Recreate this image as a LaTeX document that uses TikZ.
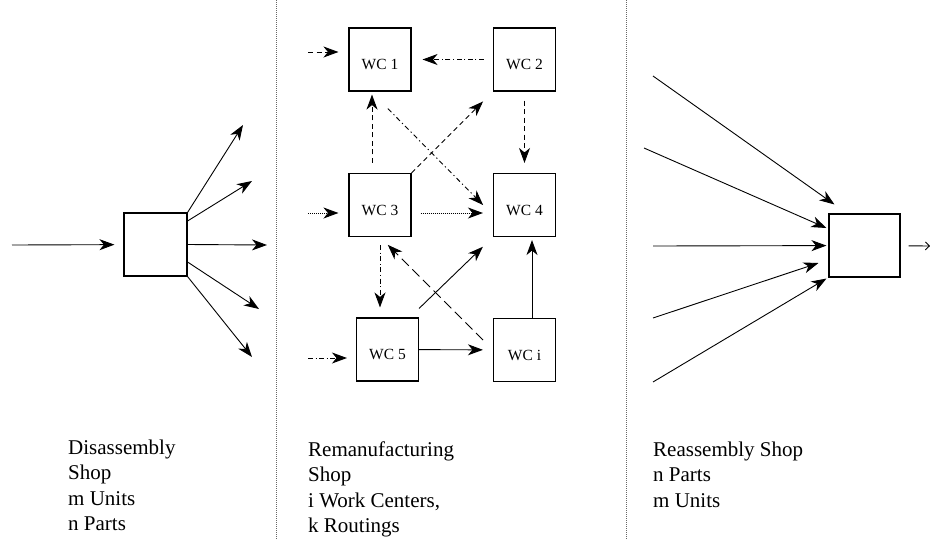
\documentclass[tikz,border=0pt]{standalone}
\usepackage{fontspec}
\setmainfont{Liberation Serif}
\usetikzlibrary{arrows.meta, calc, positioning}

\tikzset{
  shopbox/.style={draw, line width=1.1pt, minimum width=63pt, minimum height=63pt, inner sep=0pt},
  wc/.style={shopbox, minimum width=62pt, font=\fontsize{15.5}{17}\selectfont, text height=20pt, text depth=0pt},
  flow/.style={line width=0.9pt, -{Stealth[length=15pt,width=11pt,inset=4.5pt]}},
  dashflow/.style={flow, dash pattern=on 5pt off 3.5pt},
  dotflow/.style={flow, dash pattern=on 1pt off 1pt},
  dashdotflow/.style={flow, dash pattern=on 5pt off 2.5pt on 1.2pt off 2.5pt},
  sparseflow/.style={flow, dash pattern=on 5pt off 3pt on 1.2pt off 3pt},
  longdashflow/.style={flow, dash pattern=on 10pt off 5pt},
  divider/.style={black!60, line width=0.7pt, dash pattern=on 1pt off 1pt},
  shoplabel/.style={anchor=base west, align=left, inner sep=0pt, font=\fontsize{21}{25.5}\selectfont},
}

\begin{document}
\begin{tikzpicture}[x=1pt, y=-1pt]
\useasboundingbox (0,0) rectangle (930,539);

\draw[divider] (276,0) -- (276,539);
\draw[divider] (626,0) -- (626,539);

% disassembly shop
\node[shopbox] (dis) at (155.5,244.5) {};
\coordinate (disin) at (12,245);
\coordinate (dout1) at (243,125);
\coordinate (dout2) at (252,181);
\coordinate (dout3) at (267,245);
\coordinate (dout4) at (259,309);
\coordinate (dout5) at (252,357);
\draw[flow, shorten >=9pt] (disin) -- (dis);
\draw[flow] (dis.north east) -- (dout1);
\draw[flow] ($(dis.east)+(0,-23.5)$) -- (dout2);
\draw[flow] (dis.east) -- (dout3);
\draw[flow] ($(dis.east)+(0,17.5)$) -- (dout4);
\draw[flow] (dis.south east) -- (dout5);

% remanufacturing shop
\node[wc] (wc1) at (380,59.5) {WC 1};
\node[wc] (wc2) at (524.5,59.5) {WC 2};
\node[wc] (wc3) at (380,205) {WC 3};
\node[wc] (wc4) at (524.5,205) {WC 4};
\node[wc] (wc5) at (387.5,349.5) {WC 5};
\node[wc] (wci) at (524.5,350) {WC i};
\coordinate (in1) at (308,52);
\coordinate (in3) at (308,213);
\coordinate (in5) at (308,358);

\draw[dashflow] (in1) -- ($(wc1.west)+(-10,-7.5)$);
\draw[dashdotflow, shorten <=9pt, shorten >=11pt] (wc2) -- (wc1);
\draw[dashflow, shorten <=10pt, shorten >=3pt] ($(wc3.north)+(-8,0)$) -- ($(wc1.south)+(-8,0)$);
\draw[dashflow, shorten >=14pt] (wc3.north east) -- (wc2.south west);
\draw[sparseflow, shorten <=24pt, shorten >=14pt] ($(wc1.south)+(-9,0)$) -- ($(wc4.west)+(0,10)$);
\draw[dashflow, shorten <=9pt, shorten >=10pt] (wc2) -- (wc4);
\draw[dotflow] (in3) -- ($(wc3.west)+(-10,8)$);
\draw[dotflow, shorten <=9pt, shorten >=10pt] ($(wc3.east)+(0,8)$) -- ($(wc4.west)+(0,8)$);
\draw[dashdotflow, shorten <=8pt, shorten >=10pt] (wc3.south) -- ($(wc5.north)+(-7.5,0)$);
\draw[longdashflow, shorten <=14pt, shorten >=11pt] (wci.west) -- (wc3.south);
\draw[flow, shorten >=14pt] ($(wc5.north east)+(0,-9)$) -- (wc4.south west);
\draw[flow, shorten >=3pt] ($(wci.north)+(7.5,0)$) -- ($(wc4.south)+(7.5,0)$);
\draw[flow, shorten >=10pt] (wc5) -- (wci);
\draw[dashdotflow] (in5) -- ($(wc5.west)+(-9,8.5)$);

% reassembly shop
\node[shopbox, minimum width=71pt] (re) at (864.5,245.5) {};
\coordinate (rin1) at (653,76);
\coordinate (rin2) at (644,148);
\coordinate (rin3) at (653,246);
\coordinate (rin4) at (653,318);
\coordinate (rin5) at (653,382);
\coordinate (reout) at (930,246);
\draw[flow] (rin1) -- ($(re.north west)+(6,-9)$);
\draw[flow] (rin2) -- ($(re.west)+(-2,-17.5)$);
\draw[flow, shorten >=2pt] (rin3) -- (re);
\draw[flow] (rin4) -- ($(re.west)+(-10,17.5)$);
\draw[flow] (rin5) -- ($(re.south west)+(-2,1)$);
\draw[line width=0.9pt, -{Straight Barb[length=4pt,width=8pt]}, shorten <=8pt] (re) -- (reout);

\node[shoplabel] (dislabel) at (68,530.5) {Disassembly\\Shop\\m Units\\n Parts};
\node[shoplabel] (remlabel) at (308,532.5) {Remanufacturing\\Shop\\i Work Centers,\\k Routings};
\node[shoplabel] (relabel) at (653,507) {Reassembly Shop\\n Parts\\m Units};
\end{tikzpicture}
\end{document}
